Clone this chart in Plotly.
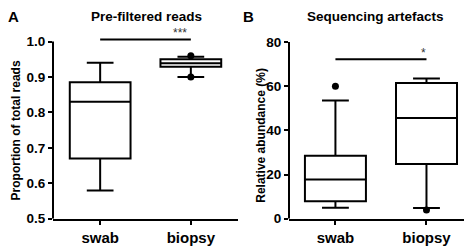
import plotly.graph_objects as go

categories = ["swab", "biopsy"]

# Panel A: Pre-filtered reads (proportion of total reads)
a_lower = [0.58, 0.900]
a_q1 = [0.670, 0.929]
a_median = [0.830, 0.939]
a_q3 = [0.885, 0.950]
a_upper = [0.940, 0.957]
a_outlier_x = ["biopsy", "biopsy"]
a_outlier_y = [0.960, 0.900]
a_sig_y = 1.006
a_sig_label = "***"
a_ticks = [0.5, 0.6, 0.7, 0.8, 0.9, 1.0]

# Panel B: Sequencing artefacts (relative abundance %)
b_lower = [5.0, 4.8]
b_q1 = [7.9, 24.8]
b_median = [17.8, 45.6]
b_q3 = [28.5, 61.5]
b_upper = [53.6, 63.5]
b_outlier_x = ["swab", "biopsy"]
b_outlier_y = [60.0, 3.9]
b_sig_y = 72.2
b_sig_label = "*"
b_ticks = [0, 20, 40, 60, 80]

FONT = "Liberation Sans"
W, H = 472, 248

fig = go.Figure()

def add_boxes(xa, ya, lower, q1, med, q3, upper):
    for i, c in enumerate(categories):
        fig.add_trace(go.Box(
            x=[c], q1=[q1[i]], median=[med[i]], q3=[q3[i]],
            lowerfence=[lower[i]], upperfence=[upper[i]],
            boxpoints=False, width=0.67, whiskerwidth=0.44,
            fillcolor="white", line=dict(color="black", width=2),
            xaxis=xa, yaxis=ya, showlegend=False, hoverinfo="skip"))

add_boxes("x", "y", a_lower, a_q1, a_median, a_q3, a_upper)
add_boxes("x2", "y2", b_lower, b_q1, b_median, b_q3, b_upper)

fig.add_trace(go.Scatter(x=a_outlier_x, y=a_outlier_y, mode="markers",
                         marker=dict(color="black", size=7), xaxis="x", yaxis="y",
                         showlegend=False, cliponaxis=False))
fig.add_trace(go.Scatter(x=b_outlier_x, y=b_outlier_y, mode="markers",
                         marker=dict(color="black", size=7), xaxis="x2", yaxis="y2",
                         showlegend=False, cliponaxis=False))

# significance bars
fig.add_trace(go.Scatter(x=categories, y=[a_sig_y, a_sig_y], mode="lines",
                         line=dict(color="black", width=2), xaxis="x", yaxis="y",
                         showlegend=False))
fig.add_trace(go.Scatter(x=categories, y=[b_sig_y, b_sig_y], mode="lines",
                         line=dict(color="black", width=2), xaxis="x2", yaxis="y2",
                         showlegend=False))

ydom = [0.122, 0.92]
a_range = [0.5, 1.0407]
b_range = [0, 86.76]

axis_common = dict(showline=False, ticks="outside", ticklen=4, tickwidth=1.5,
                   tickcolor="black", showgrid=False, zeroline=False,
                   tickfont=dict(family=FONT, size=13.5, color="black", weight="bold"))

fig.update_layout(
    width=W, height=H,
    margin=dict(l=0, r=0, t=0, b=0),
    paper_bgcolor="white", plot_bgcolor="white",
    xaxis=dict(domain=[45/W, 230/W], type="category", categoryarray=categories,
               range=[-0.52, 1.52], showline=True, linewidth=2, linecolor="black",
               ticks="outside", ticklen=4, tickwidth=1.5, tickcolor="black",
               showgrid=False, tickfont=dict(family=FONT, size=15, color="black", weight="bold"),
               anchor="y"),
    xaxis2=dict(domain=[281/W, 464/W], type="category", categoryarray=categories,
                range=[-0.51, 1.5], showline=True, linewidth=2, linecolor="black",
                ticks="outside", ticklen=4, tickwidth=1.5, tickcolor="black",
                showgrid=False, tickfont=dict(family=FONT, size=15, color="black", weight="bold"),
                anchor="y2"),
    yaxis=dict(domain=ydom, range=a_range, tickvals=a_ticks, tickformat=".1f",
               anchor="x", **axis_common),
    yaxis2=dict(domain=ydom, range=b_range, tickvals=b_ticks,
                anchor="x2", **axis_common),
)

# y axis lines, limited to the labelled range
fig.add_shape(type="line", xref="x domain", yref="y", x0=0, x1=0,
              y0=a_ticks[0], y1=a_ticks[-1], line=dict(color="black", width=2))
fig.add_shape(type="line", xref="x2 domain", yref="y2", x0=0, x1=0,
              y0=b_ticks[0], y1=b_ticks[-1], line=dict(color="black", width=2))

def ann(text, x, y, size, xref="paper", yref="paper", angle=0, color="black",
        bold=True, yshift=0, yanchor="middle"):
    fig.add_annotation(text=text, x=x, y=y, xref=xref, yref=yref, showarrow=False,
                       textangle=angle, xanchor="center", yanchor=yanchor, yshift=yshift,
                       font=dict(family=FONT, size=size, color=color,
                                 weight="bold" if bold else "normal"))

ann("A", 5/W, 1 - 9/H, 15)
ann("B", 240/W, 1 - 9/H, 15)
ann("Pre-filtered reads", 138/W, 1 - 9/H, 13.5)
ann("Sequencing artefacts", 367/W, 1 - 9/H, 13.5)
ann("Proportion of total reads", 7.5/W, 1 - 127/H, 12, angle=-90)
ann("Relative abundance (%)", 253/W, 1 - 132/H, 12, angle=-90)
ann(a_sig_label, 0.88, a_sig_y, 12, xref="x", yref="y", color="#333", bold=False,
    yshift=-3, yanchor="bottom")
ann(b_sig_label, 0.97, b_sig_y, 12, xref="x2", yref="y2", color="#333", bold=False,
    yshift=-3, yanchor="bottom")

fig.write_html("out.html")
